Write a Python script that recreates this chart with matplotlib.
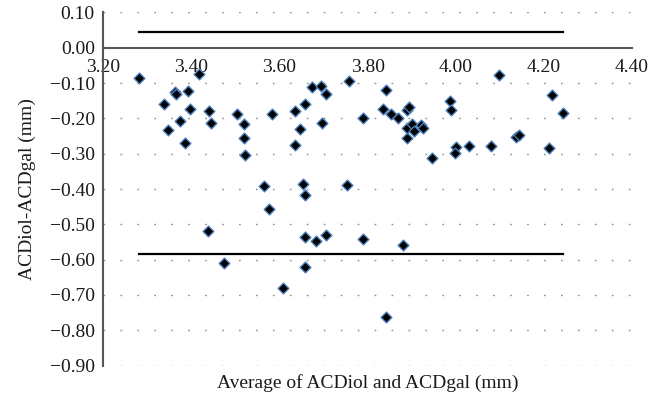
import matplotlib
matplotlib.use("Agg")
import matplotlib.pyplot as plt
import numpy as np
from matplotlib.ticker import FuncFormatter

avg = [3.282, 3.338, 3.347, 3.362, 3.366, 3.375, 3.386, 3.392, 3.397, 3.417,
       3.440, 3.445, 3.503, 3.519, 3.519, 3.521, 3.583, 3.564, 3.636, 3.647,
       3.635, 3.658, 3.675, 3.694, 3.705, 3.696, 3.653, 3.657, 3.758, 3.790,
       3.841, 3.836, 3.853, 3.870, 3.889, 3.895, 3.889, 3.890, 3.900, 3.906,
       3.921, 3.926, 3.947, 3.987, 3.989, 4.000, 3.998, 4.030, 4.079, 4.099,
       4.136, 4.144, 4.218, 4.211, 4.244, 3.437, 3.474, 3.577, 3.609, 3.658,
       3.682, 3.705, 3.659, 3.789, 3.880, 3.842, 3.754]
diff = [-0.087, -0.158, -0.234, -0.125, -0.132, -0.208, -0.271, -0.123, -0.174, -0.074,
        -0.179, -0.212, -0.189, -0.217, -0.256, -0.303, -0.188, -0.392, -0.180, -0.231,
        -0.275, -0.158, -0.112, -0.108, -0.132, -0.212, -0.386, -0.416, -0.095, -0.200,
        -0.121, -0.173, -0.187, -0.200, -0.176, -0.169, -0.256, -0.228, -0.216, -0.235,
        -0.219, -0.228, -0.312, -0.151, -0.177, -0.280, -0.299, -0.278, -0.277, -0.076,
        -0.252, -0.247, -0.135, -0.283, -0.186, -0.518, -0.610, -0.457, -0.680, -0.537,
        -0.547, -0.531, -0.620, -0.541, -0.559, -0.763, -0.389]
upper_limit = 0.045
lower_limit = -0.584

x_ticks = [3.20, 3.40, 3.60, 3.80, 4.00, 4.20, 4.40]
y_ticks = [0.10, 0.00, -0.10, -0.20, -0.30, -0.40, -0.50, -0.60, -0.70, -0.80, -0.90]

serif = ["Liberation Serif", "DejaVu Serif"]
plt.rcParams["font.family"] = serif

fig = plt.figure(figsize=(6.57, 4.0), dpi=100)
ax = fig.add_axes([0.157, 0.086, 0.805, 0.883])

ax.set_xlim(3.20, 4.40)
ax.set_ylim(-0.90, 0.10)

for yv in y_ticks:
    if abs(yv) > 1e-9:
        ax.axhline(yv, color="#8c8c8c", lw=1.0, ls=(0, (1.2, 11.0)), zorder=1)

xmin, xmax = min(avg), max(avg)
ax.plot([xmin, xmax], [upper_limit, upper_limit], color="black", lw=1.6, zorder=2)
ax.plot([xmin, xmax], [lower_limit, lower_limit], color="black", lw=1.6, zorder=2)

ax.scatter(avg, diff, marker="D", s=30, facecolor="black", edgecolor="#4a7ebb",
           linewidths=1.0, zorder=3)

ax.spines["top"].set_visible(False)
ax.spines["right"].set_visible(False)
ax.spines["bottom"].set_position(("data", 0))
ax.spines["bottom"].set_color("#555555")
ax.spines["bottom"].set_linewidth(1.5)
ax.spines["left"].set_color("#555555")
ax.spines["left"].set_linewidth(1.5)

ax.set_xticks(x_ticks)
ax.set_yticks(y_ticks)
ax.xaxis.set_major_formatter(FuncFormatter(lambda v, p: f"{v:.2f}"))
ax.yaxis.set_major_formatter(FuncFormatter(lambda v, p: f"{v:.2f}".replace("-", "\u2212") if abs(v) > 1e-9 else "0.00"))
ax.tick_params(axis="both", length=0, labelsize=14, colors="#1a1a1a")
ax.tick_params(axis="x", pad=8)
ax.tick_params(axis="y", pad=6)

ax.set_ylabel("ACDiol-ACDgal (mm)", fontsize=14, color="#1a1a1a", labelpad=10)
fig.text(0.559, 0.042, "Average of ACDiol and ACDgal (mm)", fontsize=14,
         color="#1a1a1a", ha="center", va="center")

fig.savefig("out.png", dpi=100)
